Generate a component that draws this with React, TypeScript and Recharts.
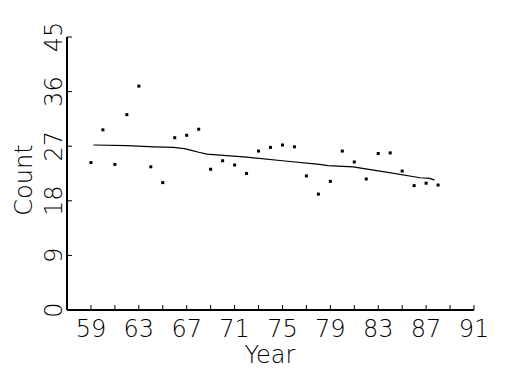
import React from 'react';
import { ComposedChart, XAxis, YAxis, Scatter, Line, Label } from 'recharts';

const years = [59, 60, 61, 62, 63, 64, 65, 66, 67, 68, 69, 70, 71, 72, 73, 74, 75, 76, 77, 78, 79, 80, 81, 82, 83, 84, 85, 86, 87, 88];
const counts = [24.3, 29.7, 24.0, 32.2, 36.9, 23.6, 21.0, 28.4, 28.8, 29.8, 23.2, 24.6, 23.9, 22.5, 26.2, 26.8, 27.2, 26.9, 22.1, 19.1, 21.2, 26.2, 24.4, 21.6, 25.8, 25.9, 22.9, 20.5, 20.9, 20.6];

const trendYears = [59.2, 62, 64.3, 65.9, 66.8, 67.4, 68, 68.7, 72, 75, 78.1, 78.8, 80.9, 83.8, 86.5, 87.3, 87.7];
const trendCounts = [27.2, 27.1, 26.9, 26.8, 26.6, 26.3, 26.0, 25.7, 25.2, 24.6, 24.0, 23.8, 23.6, 22.7, 21.8, 21.7, 21.4];

const xTicks = [59, 61, 63, 65, 67, 69, 71, 73, 75, 77, 79, 81, 83, 85, 87, 89, 91];
const xLabels = [59, 63, 67, 71, 75, 79, 83, 87, 91];
const yTicks = [0, 9, 18, 27, 36, 45];

const pointData = years.map((x, i) => ({ x, y: counts[i] }));
const trendData = trendYears.map((x, i) => ({ x, y: trendCounts[i] }));

const FONT = "'DejaVu Sans', sans-serif";
const textStyle = { fontFamily: FONT, fontWeight: 200, fontStretch: 'condensed' as const };

const XTick = (props: any) => {
  const { x, y, payload } = props;
  const v = payload.value;
  return (
    <g>
      <line x1={x} y1={y} x2={x} y2={y - 5} stroke="#000" strokeWidth={1} />
      {xLabels.includes(v) && (
        <text x={x} y={y + 19} textAnchor="middle" dominantBaseline="central" fontSize={24} fill="#000" style={textStyle}>
          {v}
        </text>
      )}
    </g>
  );
};

const YTick = (props: any) => {
  const { x, y, payload } = props;
  const v = payload.value;
  const cx = x - 13;
  return (
    <g>
      <line x1={x} y1={y} x2={x + 5} y2={y} stroke="#000" strokeWidth={1} />
      <text x={cx} y={y} textAnchor="middle" dominantBaseline="central" fontSize={24} fill="#000"
        transform={`rotate(-90, ${cx}, ${y})`} style={textStyle}>
        {v}
      </text>
    </g>
  );
};

const Dot = (p: any) => <rect x={p.cx - 1.5} y={p.cy - 1.5} width={3} height={3} fill="#000" />;

export default function App() {
  return (
    <div style={{ position: 'absolute', left: 0, top: 0, background: '#fff' }}>
      <ComposedChart width={525} height={375} margin={{ top: 37, right: 51, bottom: 0, left: 0 }}>
        <XAxis type="number" dataKey="x" domain={[57, 91]} ticks={xTicks} interval={0}
          tickSize={0} tickMargin={0} tickLine={false} tick={<XTick />} height={65}
          axisLine={{ stroke: '#000', strokeWidth: 2 }} allowDataOverflow>
          <Label content={() => (
            <text x={270} y={355} textAnchor="middle" dominantBaseline="central" fontSize={24} fill="#000" style={textStyle}>Year</text>
          )} />
        </XAxis>
        <YAxis type="number" domain={[0, 45]} ticks={yTicks} interval={0} width={67}
          tickSize={0} tickMargin={0} tickLine={false} tick={<YTick />}
          axisLine={{ stroke: '#000', strokeWidth: 2 }} allowDataOverflow>
          <Label content={() => (
            <text x={24} y={180} textAnchor="middle" dominantBaseline="central" fontSize={24} fill="#000"
              transform="rotate(-90, 24, 180)" style={textStyle}>Count</text>
          )} />
        </YAxis>
        <Line data={trendData} dataKey="y" type="linear" stroke="#000" strokeWidth={1.2} dot={false} isAnimationActive={false} />
        <Scatter data={pointData} dataKey="y" shape={<Dot />} isAnimationActive={false} />
      </ComposedChart>
    </div>
  );
}
